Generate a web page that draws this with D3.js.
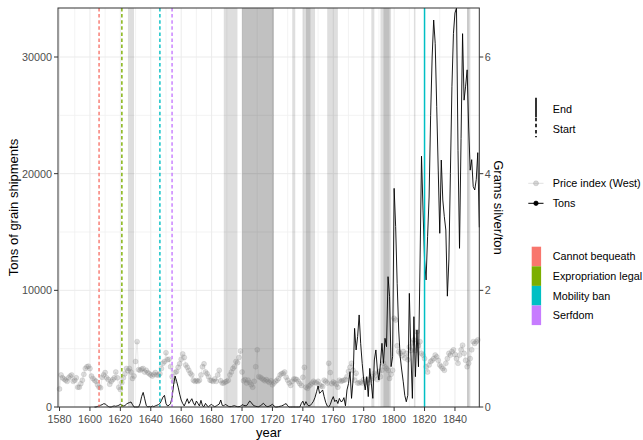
<!DOCTYPE html>
<html><head><meta charset="utf-8">
<script src="https://cdn.jsdelivr.net/npm/d3@7"></script>
<style>
body{margin:0;background:#fff;}
text{font-family:"Liberation Sans",Arial,Helvetica,sans-serif;}
</style>
</head><body>
<svg id="chart" width="643" height="440"></svg>
<script>
// ---------------- DATA ----------------
const priceStartYear = 1580;
const priceWest = [ // grams silver / ton, 1580-1855
  0.31,0.55,0.50,0.48,0.46,0.44,0.50,0.53,0.55,0.44,
  0.46,0.50,0.34,0.34,0.40,0.46,0.56,0.66,0.69,0.70,
  0.66,0.53,0.49,0.46,0.44,0.38,0.34,0.33,0.51,0.55,
  0.59,0.50,0.47,0.39,0.44,0.47,0.50,0.60,0.50,0.34,
  0.30,0.42,0.50,0.57,0.66,0.62,0.66,0.60,0.49,0.53,
  0.78,1.12,0.64,0.63,0.65,0.66,0.60,0.63,0.59,0.57,
  0.55,0.53,0.56,0.59,0.55,0.55,0.57,0.66,0.75,0.78,
  0.93,0.81,0.82,0.69,0.52,0.44,0.59,0.61,0.68,0.74,
  0.82,0.91,0.85,0.72,0.68,0.63,0.58,0.55,0.46,0.44,
  0.45,0.44,0.46,0.55,0.69,0.74,0.60,0.57,0.52,0.46,
  0.45,0.44,0.48,0.44,0.55,0.63,0.45,0.41,0.41,0.43,
  0.44,0.46,0.55,0.60,0.66,0.69,0.78,0.76,0.85,0.96,
  0.60,0.45,0.47,0.41,0.46,0.42,0.38,0.34,0.44,0.69,
  0.98,0.52,0.51,0.49,0.47,0.45,0.47,0.44,0.42,0.45,
  0.38,0.41,0.44,0.46,0.49,0.55,0.57,0.58,0.60,0.51,
  0.46,0.41,0.37,0.44,0.48,0.48,0.47,0.44,0.40,0.37,
  0.51,0.68,0.34,0.32,0.36,0.38,0.41,0.44,0.42,0.41,
  0.44,0.38,0.36,0.35,0.46,0.44,0.41,0.75,0.59,0.40,
  0.43,0.41,0.39,0.34,0.46,0.44,0.45,0.46,0.47,0.52,
  0.61,0.68,0.75,0.63,0.46,0.58,0.41,0.41,0.43,0.41,
  0.47,0.43,0.45,0.41,0.47,0.52,0.49,0.58,0.55,0.47,
  0.61,0.52,0.63,0.75,0.69,0.66,0.63,0.49,0.56,0.63,
  1.52,1.49,1.05,0.95,0.92,0.88,0.95,0.84,0.92,0.81,
  1.03,0.97,1.10,1.15,0.97,1.29,1.05,1.12,0.92,0.89,
  0.83,0.69,0.60,0.72,0.78,0.80,0.83,0.89,0.86,0.80,
  0.72,0.69,0.66,0.63,0.75,0.83,0.92,0.89,0.95,0.98,
  0.90,0.83,0.75,0.89,0.98,1.06,0.92,0.80,0.69,0.75,
  0.83,0.98,1.12,1.09,1.12,1.15
];
const tonsStartYear = 1603;
const tons = [ // tons of grain shipments, 1603-1856
  0,0,50,100,150,200,280,
  260,150,50,0,0,60,90,60,100,150,
  230,150,90,120,250,330,380,430,200,0,
  0,0,0,300,900,1250,700,150,0,50,
  0,80,30,100,150,200,300,550,850,1000,
  300,90,150,300,800,1900,2650,2200,1700,1100,
  600,300,90,400,710,310,500,710,350,140,
  510,300,90,570,100,30,310,100,30,150,
  230,100,30,80,170,250,600,140,100,230,
  150,60,30,40,80,110,60,30,30,60,
  200,150,110,120,300,510,400,200,110,60,
  30,30,100,200,310,200,60,30,80,150,
  230,100,0,0,30,60,90,150,230,290,
  100,0,0,0,0,0,0,0,0,310,
  500,150,460,200,90,150,310,500,830,1300,
  1800,1170,1300,1460,890,400,90,0,200,600,
  890,460,600,300,740,460,500,800,100,1460,
  2000,3030,740,2310,6740,4890,6030,7890,5460,3740,
  2300,1460,2600,890,3310,2030,740,4030,4890,3170,
  2310,3740,5460,3740,5890,5170,11170,9460,3460,4310,
  18740,15460,10600,6600,4300,3170,2160,1000,450,1000,
  9740,4740,740,7740,2600,6600,3450,12000,21500,16880,
  12600,10890,14600,18000,25000,30000,33170,31170,25740,20310,
  14890,21170,17740,16310,15170,9500,12600,20030,27450,32030,
  33770,34200,22000,13600,23000,32000,26300,27500,28900,24000,
  20300,21200,18900,18600,19500,21800,15400
];
const xTickYears = [1580,1600,1620,1640,1660,1680,1700,1720,1740,1760,1780,1800,1820,1840];
const yTickTons = [0,10000,20000,30000];
const y2TickGrams = [0,2,4,6];
const tonsPerGram = 5000;
const policyNames = ["Cannot bequeath","Expropriation legal","Mobility ban","Serfdom"];
const policyColors = ["#F8766D","#7CAE00","#00BFC4","#C77CFF"];
const policyStartYears = [1606,1621,1646,1654];
const policyEnds = [{policy:"Mobility ban", year:1820}];
const shadedPeriods = [
  [1625,1629],[1688,1697],[1700,1721],[1700,1711],[1711,1721],[1733,1735],
  [1740,1748],[1742,1745],[1756,1763],[1785,1787],[1791,1798],[1793,1797],
  [1813,1814],[1848,1850],[1848,1849]
];
const linetypeLegend = ["End","Start"];
const seriesLegend = ["Price index (West)","Tons"];

// ---------------- CHART ----------------
const svg = d3.select("#chart");
const L = 58, T = 8, R = 479.3, B = 407;
const x = d3.scaleLinear().domain([1579,1856]).range([L,R]);
const y = d3.scaleLinear().domain([0,34200]).range([B,T]);
const y2 = d3.scaleLinear().domain([0,34200/tonsPerGram]).range([B,T]);

svg.append("rect").attr("width",643).attr("height",440).attr("fill","#fff");

const g = svg.append("g");
// gridlines
const xMinor = d3.range(1590,1856,20);
const yMinor = [5000,15000,25000];
g.selectAll(".vmin").data(xMinor).enter().append("line")
  .attr("x1",d=>x(d)).attr("x2",d=>x(d)).attr("y1",T).attr("y2",B)
  .attr("stroke","#f0f0f0").attr("stroke-width",0.8);
g.selectAll(".hmin").data(yMinor).enter().append("line")
  .attr("x1",L).attr("x2",R).attr("y1",d=>y(d)).attr("y2",d=>y(d))
  .attr("stroke","#f0f0f0").attr("stroke-width",0.8);
g.selectAll(".vmaj").data(xTickYears).enter().append("line")
  .attr("x1",d=>x(d)).attr("x2",d=>x(d)).attr("y1",T).attr("y2",B)
  .attr("stroke","#ebebeb").attr("stroke-width",1);
g.selectAll(".hmaj").data(yTickTons).enter().append("line")
  .attr("x1",L).attr("x2",R).attr("y1",d=>y(d)).attr("y2",d=>y(d))
  .attr("stroke","#ebebeb").attr("stroke-width",1);

// shaded periods
g.selectAll(".band").data(shadedPeriods).enter().append("rect")
  .attr("x",d=>x(d[0])).attr("width",d=>x(d[1])-x(d[0]))
  .attr("y",T).attr("height",B-T)
  .attr("fill","#000").attr("fill-opacity",0.13);

// price index
const priceData = priceWest.map((v,i)=>({year:priceStartYear+i, v}));
g.append("path").datum(priceData)
  .attr("d", d3.line().x(d=>x(d.year)).y(d=>y2(d.v)))
  .attr("fill","none").attr("stroke","#7f7f7f").attr("stroke-opacity",0.2).attr("stroke-width",0.7);
g.selectAll(".pt").data(priceData).enter().append("circle")
  .attr("cx",d=>x(d.year)).attr("cy",d=>y2(d.v)).attr("r",2.5)
  .attr("fill","#7f7f7f").attr("fill-opacity",0.26)
  .attr("stroke","#7f7f7f").attr("stroke-opacity",0.26).attr("stroke-width",0.7);

// tons
const tonsData = tons.map((v,i)=>({year:tonsStartYear+i, v}));
g.append("path").datum(tonsData)
  .attr("d", d3.line().x(d=>x(d.year)).y(d=>y(d.v)))
  .attr("fill","none").attr("stroke","#000").attr("stroke-width",0.9);

// policy lines
const colorOf = d3.scaleOrdinal().domain(policyNames).range(policyColors);
g.selectAll(".start").data(policyNames).enter().append("line")
  .attr("x1",(d,i)=>x(policyStartYears[i])).attr("x2",(d,i)=>x(policyStartYears[i]))
  .attr("y1",T).attr("y2",B)
  .attr("stroke",d=>colorOf(d)).attr("stroke-width",1.4).attr("stroke-dasharray","3.5,2.6");
g.selectAll(".end").data(policyEnds).enter().append("line")
  .attr("x1",d=>x(d.year)).attr("x2",d=>x(d.year)).attr("y1",T).attr("y2",B)
  .attr("stroke",d=>colorOf(d.policy)).attr("stroke-width",1.5);

// panel border
svg.append("rect").attr("x",L).attr("y",T).attr("width",R-L).attr("height",B-T)
  .attr("fill","none").attr("stroke","#333").attr("stroke-width",1);

// axes
const axisCol = "#4d4d4d";
const ax = svg.append("g");
ax.selectAll(".lt").data(yTickTons).enter().append("line")
  .attr("x1",L-4).attr("x2",L).attr("y1",d=>y(d)).attr("y2",d=>y(d)).attr("stroke","#333");
ax.selectAll(".ll").data(yTickTons).enter().append("text")
  .attr("x",L-6).attr("y",d=>y(d)+3.9).attr("text-anchor","end")
  .attr("font-size","10.8px").attr("fill",axisCol).text(d=>d);
ax.selectAll(".rt").data(y2TickGrams).enter().append("line")
  .attr("x1",R).attr("x2",R+4).attr("y1",d=>y2(d)).attr("y2",d=>y2(d)).attr("stroke","#333");
ax.selectAll(".rl").data(y2TickGrams).enter().append("text")
  .attr("x",R+5.5).attr("y",d=>y2(d)+3.9).attr("text-anchor","start")
  .attr("font-size","10.8px").attr("fill",axisCol).text(d=>d);
ax.selectAll(".bt").data(xTickYears).enter().append("line")
  .attr("x1",d=>x(d)).attr("x2",d=>x(d)).attr("y1",B).attr("y2",B+4).attr("stroke","#333");
ax.selectAll(".bl").data(xTickYears).enter().append("text")
  .attr("x",d=>x(d)).attr("y",B+15.5).attr("text-anchor","middle")
  .attr("font-size","10.8px").attr("fill",axisCol).text(d=>d);

// titles
svg.append("text").attr("x",(L+R)/2).attr("y",436.5).attr("text-anchor","middle")
  .attr("font-size","13px").attr("fill","#000").text("year");
svg.append("text").attr("transform",`translate(17.5,${(T+B)/2}) rotate(-90)`)
  .attr("text-anchor","middle").attr("font-size","13px").attr("fill","#000")
  .text("Tons of grain shipments");
svg.append("text").attr("transform",`translate(494,${(T+B)/2}) rotate(90)`)
  .attr("text-anchor","middle").attr("font-size","13px").attr("fill","#000")
  .text("Grams silver/ton");

// legends
const lg = svg.append("g");
const legX = 536, legTextX = 552.7;
// linetype
linetypeLegend.forEach((lab,i)=>{
  const cy = 107.5 + i*20;
  lg.append("line").attr("x1",legX).attr("x2",legX).attr("y1",cy-9.8).attr("y2",cy+9.8)
    .attr("stroke","#000").attr("stroke-width",1.6)
    .attr("stroke-dasharray", lab==="Start" ? "3.5,2.6" : null);
  lg.append("text").attr("x",legTextX).attr("y",cy+5).attr("font-size","10.8px")
    .attr("fill","#000").text(lab);
});
// series
seriesLegend.forEach((lab,i)=>{
  const cy = 183.3 + i*20;
  const isPrice = i===0;
  lg.append("line").attr("x1",528.3).attr("x2",543.5).attr("y1",cy).attr("y2",cy)
    .attr("stroke", isPrice ? "#7f7f7f" : "#000")
    .attr("stroke-opacity", isPrice ? 0.3 : 1).attr("stroke-width", isPrice?0.8:1);
  lg.append("circle").attr("cx",legX).attr("cy",cy).attr("r",isPrice?2.5:2.2)
    .attr("fill", isPrice ? "#7f7f7f" : "#000").attr("fill-opacity", isPrice?0.3:1)
    .attr("stroke", isPrice ? "#7f7f7f" : "#000").attr("stroke-opacity", isPrice?0.3:1)
    .attr("stroke-width",0.7);
  lg.append("text").attr("x",legTextX).attr("y",cy+3.9).attr("font-size","10.8px")
    .attr("fill","#000").text(lab);
});
// fill
policyNames.forEach((lab,i)=>{
  const top = 246.7 + i*19.6;
  lg.append("rect").attr("x",531.7).attr("y",top).attr("width",9.4).attr("height",19.6)
    .attr("fill",colorOf(lab));
  lg.append("text").attr("x",legTextX).attr("y",top+9.8+3.9).attr("font-size","10.8px")
    .attr("fill","#000").text(lab);
});
</script>
</body></html>
